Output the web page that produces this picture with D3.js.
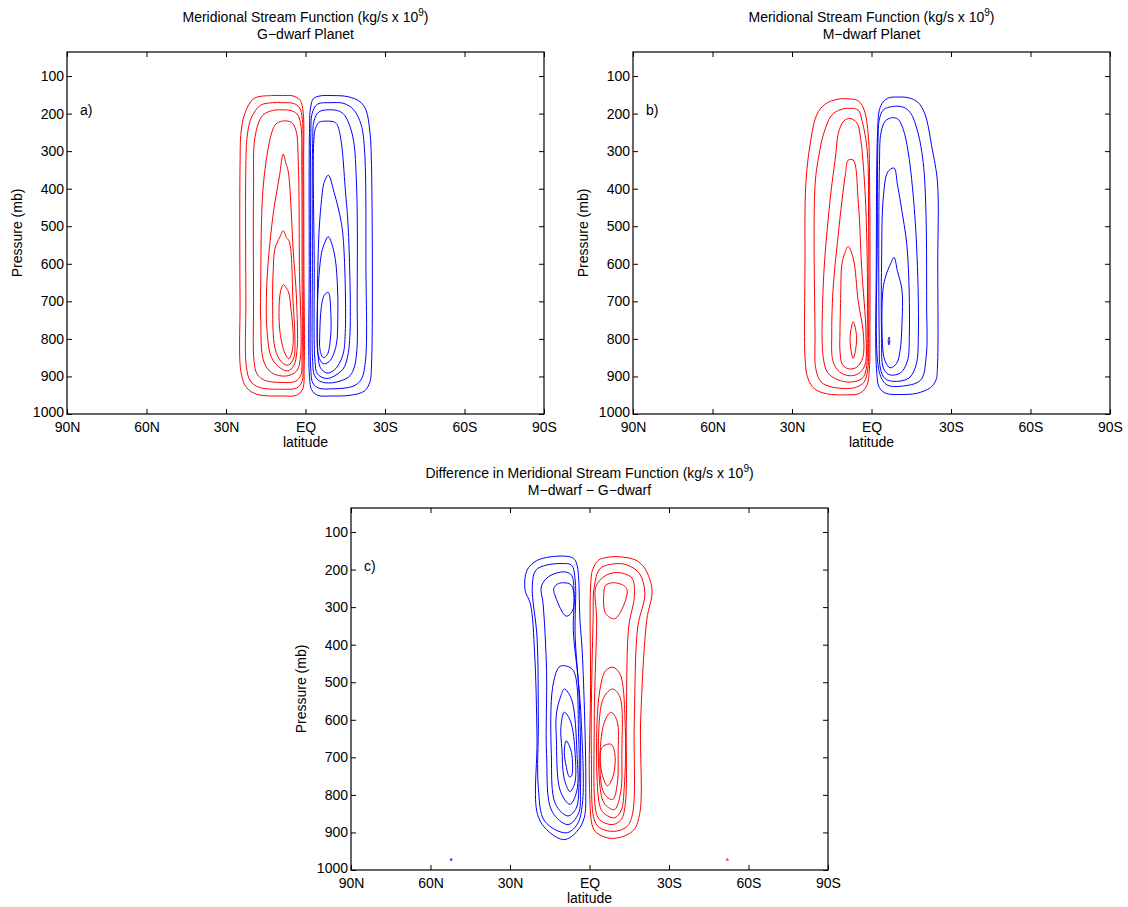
<!DOCTYPE html>
<html><head><meta charset="utf-8">
<script src="https://cdnjs.cloudflare.com/ajax/libs/d3/7.8.5/d3.min.js"></script>
<style>
body{margin:0;background:#fff}
text{font-family:"Liberation Sans",Arial,Helvetica,sans-serif;fill:#000}
</style>
</head><body>
<svg id="chart" width="1128" height="907"></svg>
<script>
// ---------- axis data ----------
const latTicks = [90, 60, 30, 0, -30, -60, -90];
const latLabels = ["90N", "60N", "30N", "EQ", "30S", "60S", "90S"];
const pTicks = [100, 200, 300, 400, 500, 600, 700, 800, 900, 1000];
const pRange = [36, 1000];

// ---------- contour data: each contour = list of [latitude (N +), pressure (mb)] ----------
// a) G-dwarf
const gRed = [
  [[8.8,152],[4.7,153],[2.0,165],[0.9,196],[0.7,338],[0.6,605],[0.5,872],[1.1,934],[3.4,950],[8.8,952],[18.2,948],[22.2,930],[24.3,890],[24.7,694],[24.7,338],[24.3,249],[22.9,200],[19.5,160],[12.8,152]],
  [[8.8,171],[4.5,173],[2.2,185],[1.2,215],[1.0,338],[0.9,605],[0.9,860],[1.4,915],[3.4,931],[8.8,934],[17.5,929],[20.8,912],[22.3,875],[22.5,694],[22.5,338],[22.0,260],[20.5,212],[17.0,178],[12.5,171]],
  [[8.8,190],[5.0,193],[2.8,205],[1.7,235],[1.4,338],[1.3,605],[1.3,850],[1.8,897],[3.8,913],[8.8,916],[15.5,910],[18.3,893],[19.4,860],[19.6,694],[19.6,400],[19.0,260],[16.2,205],[12.5,192]],
  [[8.8,220],[5.4,223],[3.6,245],[2.7,338],[2.3,605],[2.0,854],[3.4,886],[7.4,899],[12.8,890],[15.8,859],[16.9,745],[16.9,656],[15.9,390],[12.8,252],[11.2,228]],
  [[8.4,308],[7.5,330],[6.5,355],[4.6,568],[3.4,694],[3.2,830],[4.5,872],[6.7,885],[9.4,878],[12.8,850],[14.5,780],[14.6,656],[12.4,479],[9.8,365]],
  [[8.4,512],[7.2,530],[6.1,541],[4.7,700],[4.0,800],[4.4,850],[6.5,870],[9.0,862],[11.5,825],[12.4,700],[12.2,620],[11.5,559],[9.6,528]],
  [[8.4,656],[6.5,674],[5.5,720],[4.6,801],[5.3,840],[6.3,853],[7.8,838],[9.6,783],[9.9,701],[9.2,668]]
];
const gBlue = [
  [[-10.1,152],[-16,155],[-20.5,168],[-22.8,190],[-24.3,249],[-24.9,338],[-24.9,872],[-24.3,915],[-22.2,939],[-17,950],[-10,952],[-4.5,950],[-2.3,935],[-1.5,900],[-1.4,605],[-1.5,250],[-1.9,185],[-3.0,160],[-5.5,153]],
  [[-9.5,171],[-14.5,173],[-18.2,190],[-21.0,230],[-22.3,300],[-22.8,600],[-22.6,860],[-21.0,908],[-18.0,926],[-10,933],[-5.0,931],[-2.8,918],[-2.0,880],[-1.9,605],[-2.0,260],[-2.5,200],[-4.5,175]],
  [[-8.5,190],[-12.5,193],[-14.8,205],[-17.8,260],[-19.3,400],[-19.5,700],[-19.4,828],[-18.2,880],[-16.2,902],[-10,917],[-5.5,913],[-3.4,897],[-2.7,860],[-2.6,605],[-2.7,280],[-3.2,220],[-5.0,196]],
  [[-8.0,220],[-11.0,223],[-12.1,232],[-13.5,276],[-15.0,400],[-16.2,516],[-16.8,783],[-15.8,850],[-14.2,880],[-10,902],[-7.4,905],[-4.5,893],[-3.6,860],[-3.3,605],[-3.4,250],[-4.2,232],[-5.1,223]],
  [[-8.6,364],[-10.8,410],[-13.5,490],[-14.5,561],[-15.0,783],[-14.0,845],[-11.0,882],[-8.1,891],[-5.6,876],[-4.7,840],[-4.5,700],[-5.1,516],[-6.2,420],[-6.9,387]],
  [[-8.6,528],[-10.8,570],[-12.0,650],[-12.2,739],[-11.5,820],[-9.0,860],[-6.7,866],[-4.9,845],[-4.4,783],[-4.9,650],[-6.1,570],[-7.2,545]],
  [[-8.6,676],[-9.6,739],[-9.4,800],[-8.2,842],[-6.7,850],[-5.5,830],[-5.4,783],[-5.9,720],[-6.7,690],[-7.5,680]]
];
// b) M-dwarf
const mRed = [
  [[8.1,161],[5.0,166],[2.8,190],[1.2,260],[0.7,400],[0.6,784],[0.8,880],[1.8,925],[4.5,945],[9,949],[17,946],[21.5,933],[24.0,905],[25.0,860],[25.1,600],[24.8,390],[23.2,284],[20.7,204],[17.5,175],[13,162]],
  [[8.1,186],[5.0,191],[3.5,221],[1.6,300],[1.1,500],[1.1,784],[1.4,880],[2.8,915],[6,929],[9,932],[15,928],[19,915],[21.0,880],[21.3,784],[21.3,390],[19.8,310],[18.2,257],[15.0,204],[11.5,189]],
  [[8.1,213],[5.5,225],[4.3,257],[2.5,400],[1.6,600],[1.6,784],[2.0,880],[3.5,905],[8,915],[13,908],[16.5,890],[18.2,850],[18.2,656],[15.7,435],[13.5,310],[12.5,252],[10.5,220]],
  [[8.8,324],[6.9,324],[5.0,435],[3.7,612],[2.1,784],[2.5,870],[5,893],[8.5,898],[12,888],[14.5,860],[15.0,784],[14.4,656],[12.8,540],[11.2,435],[9.8,360]],
  [[8.8,554],[6.9,585],[5.0,700],[3.1,784],[3.3,850],[5.5,875],[8.5,880],[11,868],[11.9,830],[11.9,784],[11.6,680],[11.2,603],[10,570]],
  [[6.9,754],[5.6,798],[6.9,852],[8.1,801]]
];
const mBlue = [
  [[-9.2,156],[-14,158],[-17.5,170],[-20.1,200],[-22.9,294],[-24.9,383],[-25.0,600],[-24.9,872],[-24.3,910],[-22.2,930],[-17,945],[-11.2,948],[-5.5,945],[-3.0,930],[-1.9,880],[-1.8,605],[-2.3,249],[-3.0,190],[-4.4,169],[-6.5,158]],
  [[-8.0,181],[-12,183],[-14.7,198],[-17.5,250],[-19.5,330],[-20.5,450],[-20.8,700],[-20.6,850],[-18.5,910],[-11.2,926],[-6.0,923],[-3.8,905],[-2.3,860],[-2.2,516],[-2.5,260],[-3.0,214],[-4.5,190]],
  [[-7.8,211],[-10,215],[-11.9,240],[-13.8,300],[-15.5,400],[-17.0,550],[-17.7,784],[-16.8,870],[-14,905],[-8,913],[-5.0,905],[-3.4,880],[-2.9,784],[-3.0,338],[-3.6,250],[-5.2,220]],
  [[-8.5,345],[-9.8,390],[-11.5,460],[-13.5,563],[-14.3,784],[-13.5,860],[-11,890],[-7.0,896],[-4.6,880],[-3.8,784],[-3.8,600],[-4.5,420],[-6.2,355]],
  [[-8.5,583],[-9.8,620],[-11.5,670],[-11.5,760],[-10.8,830],[-9.5,865],[-7.0,877],[-5.2,860],[-4.3,830],[-4.3,670],[-5.5,630],[-7.2,600]],
  [[-6.6,795],[-6.3,805],[-6.6,816],[-6.9,805]]
];
// c) difference M - G
const dBlue = [
  [[10.1,164],[6.1,170],[4.7,188],[3.6,335],[2.7,424],[1.4,781],[2.0,861],[4.7,897],[9.5,919],[15.5,897],[19.6,852],[19.8,647],[20.7,424],[22.3,291],[24.3,255],[23.6,202],[19.6,175]],
  [[10.1,184],[6.8,188],[5.4,228],[5.4,380],[3.1,603],[2.7,825],[4.7,879],[8.8,901],[16.9,870],[19.3,781],[19.3,603],[19.8,380],[21.6,246],[20.3,202],[16.2,188]],
  [[9.5,206],[6.8,215],[5.8,264],[6.1,362],[4.1,513],[3.4,781],[4.2,850],[8.1,879],[14.2,843],[16.2,692],[16.2,469],[17.5,291],[18.2,246],[15.5,219]],
  [[10.1,235],[6.8,242],[6.3,308],[8.8,324],[12.8,273],[13.5,251],[12.2,239]],
  [[9.5,456],[6.1,469],[4.1,647],[4.0,781],[5.0,835],[8.1,856],[12.8,825],[14.4,692],[13.9,513],[11.5,460]],
  [[9.5,518],[6.8,545],[4.7,692],[4.8,790],[7.4,825],[11.0,790],[12.5,650],[12.5,585],[10.8,536]],
  [[9.5,580],[7.2,603],[5.4,692],[5.6,770],[7.4,791],[9.6,755],[10.4,680],[10.8,620]],
  [[8.8,656],[6.8,687],[6.8,750],[7.6,752],[8.8,723],[9.5,687]]
];
const dRed = [
  [[-11.5,166],[-17.5,175],[-20.9,197],[-23.6,255],[-21.6,335],[-19.3,603],[-18.9,852],[-16.2,897],[-8.8,916],[-3.5,905],[-1.35,888],[0,781],[-0.4,513],[-0.4,246],[-1.2,200],[-3.4,175],[-7,167]],
  [[-10.8,184],[-15,190],[-18.9,211],[-20.9,264],[-18.2,353],[-16.9,603],[-16.2,852],[-14,885],[-9.5,897],[-4.5,890],[-2.0,870],[-0.7,692],[-1.35,335],[-1.8,246],[-4.1,197]],
  [[-9.5,208],[-13.5,212],[-16.2,224],[-16.9,273],[-14.8,353],[-13.9,603],[-13.5,825],[-12,865],[-8.8,879],[-4.5,870],[-2.7,852],[-1.8,603],[-2.7,335],[-2.4,246],[-5.4,219]],
  [[-8.8,235],[-12.8,242],[-14.2,255],[-12.6,300],[-9.5,331],[-6.1,317],[-5.4,264],[-6.1,242]],
  [[-8.8,460],[-11.5,478],[-13.5,620],[-13.1,781],[-12,840],[-9.5,861],[-6,852],[-4.1,834],[-2.7,647],[-4.1,513],[-6.1,469]],
  [[-8.8,518],[-11.5,540],[-12.2,692],[-11.8,790],[-9.5,839],[-6.5,830],[-4.7,808],[-3.4,647],[-5.4,540]],
  [[-8.1,580],[-10.4,603],[-10.8,692],[-10.5,770],[-8.8,812],[-6.5,805],[-4.7,781],[-4.1,674],[-5.8,603]],
  [[-8.1,665],[-9.5,687],[-9.1,745],[-6.8,776],[-4.5,736],[-4.7,674]]
];
const dBlueTiny = [[[52.2,969],[51.8,974],[52.6,974]]];
const dRedTiny = [[[-52.0,969],[-52.4,974],[-51.6,974]]];

// ---------- drawing ----------
const svg = d3.select("#chart");
const RED = "#ff0000", BLUE = "#0000ff";
const FS = "14px";

const panels = [
  {left:67, top:52, w:477, h:362, red:gRed, blue:gBlue, t2:"G\u2212dwarf Planet", pre:"Meridional Stream Function (kg/s x 10", letter:"a)", tiny:null},
  {left:633, top:52, w:477, h:362, red:mRed, blue:mBlue, t2:"M\u2212dwarf Planet", pre:"Meridional Stream Function (kg/s x 10", letter:"b)", tiny:null},
  {left:351, top:508, w:477, h:362, red:dRed, blue:dBlue, t2:"M\u2212dwarf \u2212 G\u2212dwarf", pre:"Difference in Meridional Stream Function (kg/s x 10", letter:"c)", tiny:true}
];

panels.forEach(P => {
  const x = d3.scaleLinear().domain([90, -90]).range([P.left, P.left + P.w]);
  const y = d3.scaleLinear().domain(pRange).range([P.top, P.top + P.h]);
  const g = svg.append("g");

  const line = d3.line().x(d => x(d[0])).y(d => y(d[1])).curve(d3.curveCatmullRomClosed.alpha(0.5));
  const drawSet = (set, color) => {
    g.append("g").selectAll("path").data(set).join("path")
      .attr("d", line).attr("fill", "none").attr("stroke", color).attr("stroke-width", 1);
  };
  drawSet(P.red, RED);
  drawSet(P.blue, BLUE);
  if (P.tiny) {
    const lin = d3.line().x(d => x(d[0])).y(d => y(d[1])).curve(d3.curveLinearClosed);
    g.append("g").selectAll("path").data(dBlueTiny).join("path").attr("d", lin).attr("fill","none").attr("stroke",BLUE).attr("stroke-width",0.8);
    g.append("g").selectAll("path").data(dRedTiny).join("path").attr("d", lin).attr("fill","none").attr("stroke",RED).attr("stroke-width",0.8);
  }

  // axes
  const fmt = (d) => latLabels[latTicks.indexOf(d)];
  const bottomAx = g.append("g").attr("transform", `translate(0,${P.top + P.h})`)
    .call(d3.axisBottom(x).tickValues(latTicks).tickFormat(fmt).tickSizeInner(-5).tickSizeOuter(0).tickPadding(8));
  const topAx = g.append("g").attr("transform", `translate(0,${P.top})`)
    .call(d3.axisTop(x).tickValues(latTicks).tickFormat("").tickSizeInner(-5).tickSizeOuter(0));
  const leftAx = g.append("g").attr("transform", `translate(${P.left},0)`)
    .call(d3.axisLeft(y).tickValues(pTicks).tickFormat(d3.format("d")).tickSizeInner(-5).tickSizeOuter(0).tickPadding(3));
  const rightAx = g.append("g").attr("transform", `translate(${P.left + P.w},0)`)
    .call(d3.axisRight(y).tickValues(pTicks).tickFormat("").tickSizeInner(-5).tickSizeOuter(0));
  [bottomAx, topAx, leftAx, rightAx].forEach(a => {
    a.select(".domain").remove();
    a.selectAll("line").attr("stroke", "#000");
    a.selectAll("text").style("font-size", FS).style("font-family", '"Liberation Sans",Arial,sans-serif').attr("fill", "#000");
  });
  // nudge the lowest pressure label slightly up so it doesn't collide with the first latitude label
  leftAx.selectAll(".tick").filter(d => d === 1000).select("text").attr("dy", "0.2em");
  g.append("rect").attr("x", P.left).attr("y", P.top).attr("width", P.w).attr("height", P.h)
    .attr("fill", "none").attr("stroke", "#000").attr("stroke-width", 1.2);

  const cx = P.left + P.w / 2;
  // titles
  const t1 = g.append("text").attr("x", cx).attr("y", P.top - 30).attr("text-anchor", "middle").style("font-size", FS);
  t1.append("tspan").text(P.pre);
  t1.append("tspan").attr("dy", -6).style("font-size", "10px").text("9");
  t1.append("tspan").attr("dy", 6).text(")");
  g.append("text").attr("x", cx).attr("y", P.top - 13).attr("text-anchor", "middle").style("font-size", FS).text(P.t2);

  // axis labels
  g.append("text").attr("x", cx).attr("y", P.top + P.h + 33).attr("text-anchor", "middle").style("font-size", FS).text("latitude");
  g.append("text").attr("transform", `translate(${P.left - 45},${P.top + P.h / 2}) rotate(-90)`)
    .attr("text-anchor", "middle").style("font-size", FS).text("Pressure (mb)");

  // panel letter
  g.append("text").attr("x", P.left + 13).attr("y", P.top + 63).style("font-size", FS).text(P.letter);
});
</script>
</body></html>
